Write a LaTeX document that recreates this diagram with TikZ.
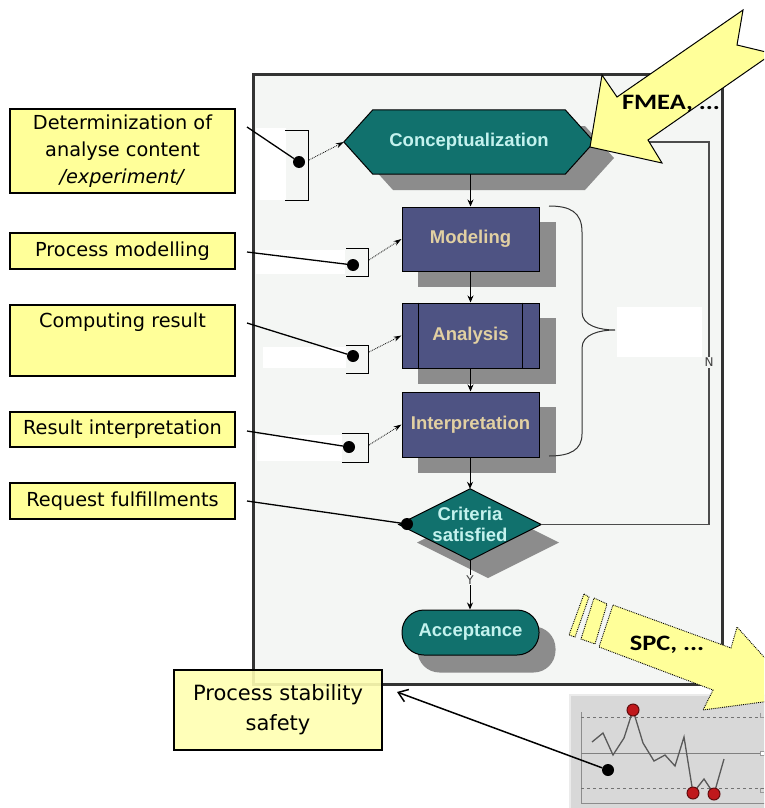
\documentclass[tikz,border=0pt]{standalone}
\usepackage{fontspec}
\setmainfont{DejaVu Sans}
\newfontfamily\flowfont{Liberation Sans}
\newfontfamily\arrfont[FakeStretch=1.2]{Carlito}
\usetikzlibrary{arrows.meta}
\pgfdeclarelayer{bg}
\pgfdeclarelayer{shad}
\pgfdeclarelayer{shp}
\pgfsetlayers{bg,shad,shp,main}
\definecolor{framebg}{HTML}{F4F6F4}
\definecolor{frameln}{HTML}{333333}
\definecolor{tealfill}{HTML}{11716D}
\definecolor{slate}{HTML}{4E5383}
\definecolor{shgray}{HTML}{8C8C8C}
\definecolor{cyantext}{HTML}{C4F2EE}
\definecolor{tantext}{HTML}{E2D0A2}
\definecolor{labyellow}{HTML}{FFFF99}
\definecolor{chartbg}{HTML}{D8D8D8}
\definecolor{dotred}{HTML}{C0181C}
\begin{document}
\begin{tikzpicture}[x=1pt,y=-1pt,
  labbox/.style={draw=black, line width=1.4pt, fill=labyellow, inner sep=0pt, align=center,
    font={\fontsize{19.3pt}{27pt}\selectfont}},
  flowtxt/.style={inner sep=0pt, align=center, font={\flowfont\bfseries\fontsize{18.5pt}{21pt}\selectfont}},
  flowrect/.style={flowtxt, draw=black, line width=1pt, fill=slate, minimum width=137pt, minimum height=64pt, text=tantext},
  leader/.style={black, line width=1.3pt},
  ldot/.style={circle, fill=black, inner sep=0pt, minimum size=12pt},
  bracketln/.style={black, line width=1pt},
  dotarrow/.style={densely dotted, line width=0.8pt, -{Stealth[length=8pt,width=5pt]}},
  flowarrow/.style={line width=1pt, -{Stealth[length=7pt,width=6pt]}},
  loopln/.style={draw=black!70, line width=1.2pt},
  smalllab/.style={fill=framebg, inner sep=1pt, text=black!75, font={\fontsize{12pt}{12pt}\selectfont}},
  bigarrow/.style={fill=labyellow, draw=black, line width=1pt},
  spcarrow/.style={fill=labyellow, draw=black, densely dotted, line width=0.9pt},
  arrtxt/.style={font={\arrfont\bfseries\fontsize{22pt}{24pt}\selectfont}}
]
\useasboundingbox (0,0) rectangle (764,808);
\clip (0,0) rectangle (764,808);

\begin{pgfonlayer}{bg}
  \fill[white] (0,0) rectangle (764,808);
  \filldraw[fill=framebg, draw=frameln, line width=3pt] (253,74) rectangle (722,684);
  \fill[white] (256,128) rectangle (286,200);
  \fill[white] (256,250) rectangle (345,274);
  \fill[white] (263,347) rectangle (346,368);
  \fill[white] (257,435) rectangle (342,461);
  \fill[white] (617,307) rectangle (702,357);
\end{pgfonlayer}

% ---------- flowchart nodes ----------
\node[flowtxt, minimum width=250pt, minimum height=64pt, text=cyantext] (con) at (469,142) {Conceptualization};
\node[flowrect] (mod) at (470.5,239) {Modeling};
\node[flowrect, minimum height=65pt] (ana) at (470.5,335.5) {Analysis};
\node[flowrect, minimum height=65pt] (int) at (470.5,424.5) {Interpretation};
\node[flowtxt, minimum width=142pt, minimum height=71pt, text=cyantext] (crit) at (470,524.5) {Criteria\\satisfied};
\node[flowtxt, draw=black, line width=1pt, fill=tealfill, text=cyantext, minimum width=137pt, minimum height=45pt, rounded corners=22pt] (acc) at (470.5,632.5) {Acceptance};

\draw[line width=1pt] ([xshift=17pt]ana.north west) -- ([xshift=17pt]ana.south west);
\draw[line width=1pt] ([xshift=-17pt]ana.north east) -- ([xshift=-17pt]ana.south east);

\begin{pgfonlayer}{shad}
  \fill[shgray] (364,158) -- (393,126) -- (585,126) -- (614,158) -- (585,190) -- (393,190) -- cycle;
  \fill[shgray] ([shift={(16,15)}]mod.north west) rectangle ([shift={(16,15)}]mod.south east);
  \fill[shgray] ([shift={(16,15)}]ana.north west) rectangle ([shift={(16,15)}]ana.south east);
  \fill[shgray] ([shift={(16,15)}]int.north west) rectangle ([shift={(16,15)}]int.south east);
  \fill[shgray] (417,542.5) -- (488,507) -- (559,542.5) -- (488,578) -- cycle;
  \fill[shgray, rounded corners=22pt] ([shift={(16,17)}]acc.north west) rectangle ([shift={(16,17)}]acc.south east);
\end{pgfonlayer}

\begin{pgfonlayer}{shp}
  \filldraw[fill=tealfill, draw=black, line width=1pt] (con.west) -- ([xshift=29pt]con.north west) -- ([xshift=-29pt]con.north east) -- (con.east) -- ([xshift=-29pt]con.south east) -- ([xshift=29pt]con.south west) -- cycle;
  \filldraw[fill=tealfill, draw=black, line width=1pt] (crit.west) -- (crit.north) -- (crit.east) -- (crit.south) -- cycle;
\end{pgfonlayer}

% flow connectors
\draw[flowarrow] (con.south -| mod.north) -- (mod.north);
\draw[flowarrow] (mod.south) -- (ana.north);
\draw[flowarrow] (ana.south) -- (int.north);
\draw[flowarrow] (int.south -| crit.north) -- (crit.north);
\draw[flowarrow] (crit.south) -- node[smalllab, pos=0.4]{Y} (crit.south |- acc.north);

% loop back (N)
\draw[loopln] (crit.east) -- (709,524.5) -- node[smalllab, pos=0.424]{N} (709,142) -- (con.east);

% brace
\draw[black!80, line width=1pt] (549,206) .. controls (570,206) and (582,212) .. (582,232) -- (582,312)
  .. controls (582,326) and (600,330) .. (615,330) .. controls (600,330) and (582,334) .. (582,348)
  -- (582,434) .. controls (582,450) and (570,456) .. (549,456);

% ---------- left labels ----------
\node[labbox, minimum width=225pt, minimum height=84pt] (l1) at (122.5,151) {Determinization of\\analyse content\\\textit{/experiment/}};
\node[labbox, minimum width=225pt, minimum height=36pt] (l2) at (122.5,251) {Process modelling};
\node[labbox, minimum width=225pt, minimum height=71pt] (l3) at (122.5,340.5) {};
\node[font={\fontsize{19.3pt}{27pt}\selectfont}] (l3t) at (122.5,322) {Computing result};
\node[labbox, minimum width=225pt, minimum height=35pt] (l4) at (122.5,429.5) {Result interpretation};
\node[labbox, minimum width=225pt, minimum height=36pt] (l5) at (122.5,501) {Request fulfillments};

\coordinate (s1) at (247,127);
\coordinate (s2) at (247,252);
\coordinate (s3) at (247,323);
\coordinate (s4) at (247,431);
\coordinate (s5) at (247,501);

% brackets
\draw[bracketln] (285,130) -- (308,130) -- (308,200) -- (285,200);
\draw[bracketln] (346,248) -- (368,248) -- (368,276) -- (346,276);
\draw[bracketln] (346,345) -- (368,345) -- (368,373) -- (346,373);
\draw[bracketln] (342,433) -- (368,433) -- (368,462) -- (342,462);
\coordinate (b1) at (309,160);
\coordinate (b2) at (369,260);
\coordinate (b3) at (369,352);
\coordinate (b4) at (369,445);
\draw[dotarrow] (b1) -- (con.west);
\draw[dotarrow] (b2) -- (mod.west);
\draw[dotarrow] (b3) -- (ana.west);
\draw[dotarrow] (b4) -- (int.west);

\node[ldot] (d1) at (299,162) {};
\node[ldot] (d2) at (353,265) {};
\node[ldot] (d3) at (353,356) {};
\node[ldot] (d4) at (349,447) {};
\node[ldot] (d5) at (407,524) {};
\draw[leader] (s1) -- (d1);
\draw[leader] (s2) -- (d2);
\draw[leader] (s3) -- (d3);
\draw[leader] (s4) -- (d4);
\draw[leader] (s5) -- (d5);

% ---------- FMEA arrow ----------
\filldraw[bigarrow] (590,147) -- (602,75) -- (617,97) -- (743,10) -- (737,45) -- (766,52) -- (766,58) -- (648,140) -- (662,163) -- cycle;
\node[arrtxt] (fmea) at (671,104) {FMEA, ...};

% ---------- SPC chart ----------
\filldraw[fill=chartbg, draw=black!8, line width=2pt] (570,695) rectangle (785,820);
\draw[black!45, line width=0.8pt] (581,712) -- (581,803) -- (770,803);
\draw[black!55, dashed, line width=0.9pt] (581,717) -- (764,717);
\draw[black!50, line width=0.9pt] (581,753) -- (764,753);
\draw[black!55, dashed, line width=0.9pt] (581,788) -- (764,788);
\draw[black!40, line width=0.8pt] (760,713) -- (760,717) -- (764,717);
\draw[black!40, line width=0.8pt, fill=white] (760,751) rectangle (764,755);
\draw[black!40, line width=0.8pt] (760,788) -- (760,792) -- (764,792);
\draw[black!65, line width=1.3pt] (592,742) -- (603,733) -- (613,755) -- (624,738) -- (633,710) -- (643,743) -- (654,761) -- (665,755) -- (675,766) -- (684,737) -- (693,793) -- (704,779) -- (714,794) -- (724,759);
\foreach \p in {(633,710),(693,793),(714,794)}
  \filldraw[fill=dotred, draw=black!50!dotred, line width=1pt] \p circle (6);

% ---------- SPC arrow ----------
\filldraw[spcarrow] (584,594) -- (589,597) -- (575,637) -- (569,635) -- cycle;
\filldraw[spcarrow] (594,598) -- (607,604) -- (595,644) -- (581,639) -- cycle;
\filldraw[spcarrow] (613,605) -- (731,648) -- (737,627) -- (800,697) -- (703,710) -- (713,690) -- (599,647) -- cycle;
\node[arrtxt] (spc) at (667,645) {SPC, ...};

% ---------- process stability ----------
\node[labbox, fill=labyellow!75!white, fill opacity=0.9, text opacity=1, minimum width=208pt, minimum height=80pt,
  font={\fontsize{21pt}{30pt}\selectfont}] (ps) at (278,710) {Process stability\\safety};
\coordinate (pstip) at (397,692);
\node[ldot] (cd) at (608,770) {};
\draw[leader, line width=1.5pt, -{Straight Barb[length=9pt,width=13pt]}] (cd) -- (pstip);
\end{tikzpicture}
\end{document}
